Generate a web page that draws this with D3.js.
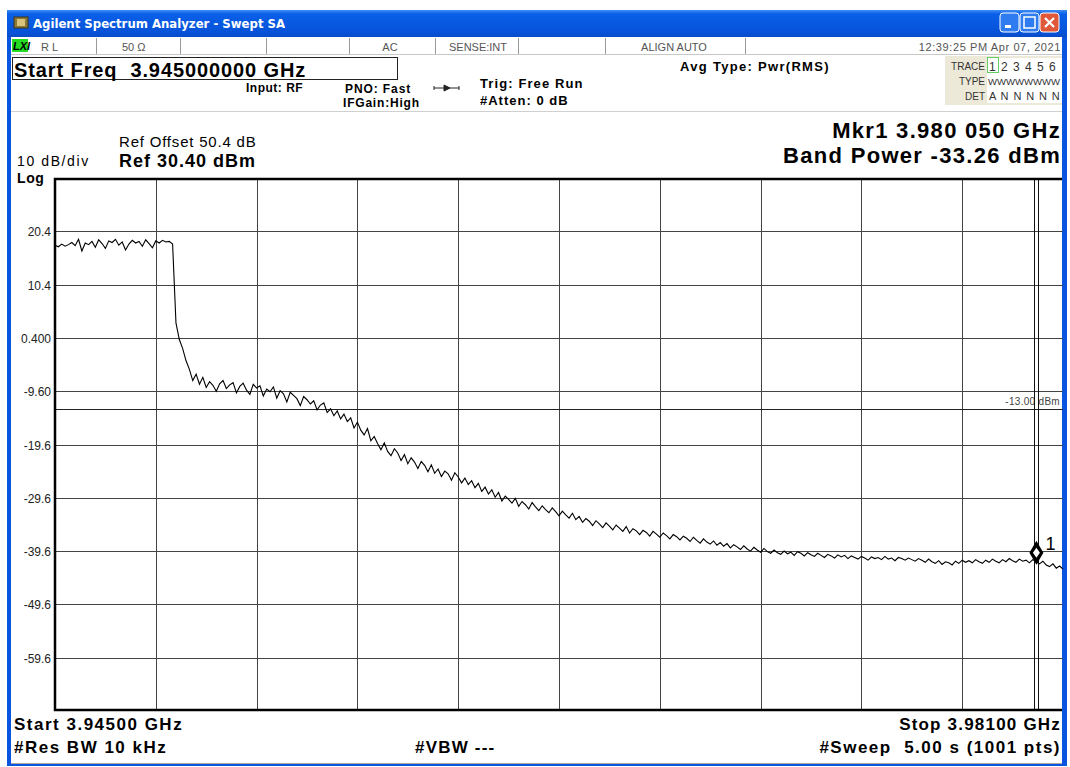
<!DOCTYPE html>
<html>
<head>
<meta charset="utf-8">
<script src="https://cdn.jsdelivr.net/npm/d3@7"></script>
<style>
  body { margin: 0; background: #ffffff; }
  svg { display: block; font-family: "Liberation Sans", Arial, sans-serif; }
</style>
</head>
<body>
<svg></svg>
<script>
// trace: 301 points, 3.945 -> 3.981 GHz, step 0.12 MHz
var startFreq = 3.945, stopFreq = 3.981
var traceDbm = [
  17.8, 17.5, 18.0, 17.6, 17.9, 18.3, 17.7, 18.9, 16.7, 18.2,
  17.9, 18.5, 17.4, 18.8, 18.1, 17.2, 18.6, 18.3, 18.9, 17.8,
  18.4, 16.9, 18.0, 18.7, 18.2, 18.5, 17.6, 18.8, 18.1, 17.3,
  18.6, 18.2, 18.7, 18.4, 18.5, 18.0,
  3.2, 0.1, -1.6, -3.9, -5.5, -7.6, -6.4, -8.3, -7.0, -8.9,
  -7.8, -8.5, -9.6, -8.2, -7.6, -9.1, -8.4, -8.0, -9.9, -8.7,
  -8.1, -9.4, -10.2, -8.3, -9.0, -8.6, -10.5, -9.2, -9.7, -8.8,
  -10.9, -9.5, -10.1, -11.6, -9.8, -10.4, -11.0, -12.3, -10.6, -11.2,
  -12.0, -11.4, -13.1, -12.2, -11.8, -13.6, -12.9, -14.2, -13.3, -14.8,
  -13.9, -15.3, -14.6, -16.5, -15.4, -16.9, -17.8, -16.6, -18.9, -18.1,
  -19.4, -20.6, -19.3, -20.9, -21.7, -20.4, -21.2, -22.6, -21.5, -23.2,
  -22.1, -22.9, -24.1, -22.8, -23.5, -24.7, -23.4, -25.0, -24.2, -25.6,
  -24.6, -25.1, -26.3, -24.9, -25.7, -26.8, -25.9, -27.1, -26.4, -27.7,
  -26.9, -28.4, -27.6, -28.9, -28.1, -29.5, -28.6, -30.2, -29.3, -29.9,
  -30.6, -29.7, -31.2, -30.3, -30.9, -31.7, -30.5, -31.3, -32.0, -31.1,
  -31.8, -32.4, -31.5, -32.2, -33.0, -32.1, -32.8, -33.4, -32.5, -33.7,
  -33.1, -34.2, -33.5, -34.0, -34.8, -33.9, -34.5, -35.2, -34.3, -34.9,
  -35.6, -34.7, -35.3, -35.9, -35.0, -36.2, -35.4, -35.8, -36.5, -35.7,
  -36.1, -36.8, -35.9, -36.4, -37.0, -36.2, -36.7, -37.3, -36.5, -36.9,
  -37.5, -36.8, -37.2, -37.8, -37.0, -37.6, -38.1, -37.3, -37.9, -38.3,
  -37.7, -38.5, -38.0, -38.7, -38.2, -39.0, -38.4, -38.8, -39.3, -38.6,
  -39.2, -39.6, -38.9, -39.4, -39.8, -39.1, -39.7, -40.0, -39.4, -39.9,
  -40.2, -39.6, -40.1, -39.8, -40.4, -39.7, -40.0, -40.5, -39.9, -40.3,
  -40.6, -40.0, -40.4, -40.8, -40.2, -40.5, -40.9, -40.3, -40.7, -40.4,
  -41.0, -40.5, -40.8, -41.1, -40.6, -40.9, -41.3, -40.7, -41.0, -40.8,
  -41.2, -40.6, -41.1, -40.9, -41.4, -40.8, -41.0, -41.3, -40.9, -41.2,
  -41.5, -41.0, -41.3, -41.7, -41.1, -41.6, -41.9, -41.4, -42.1, -41.6,
  -41.8, -42.2, -41.5, -41.9, -41.3, -41.7, -41.4, -41.8, -41.2, -41.6,
  -41.9, -41.3, -41.7, -41.1, -41.5, -41.8, -41.2, -41.6, -41.0, -41.4,
  -41.7, -41.1, -41.5, -41.3, -41.8, -41.2, -41.6, -42.0, -41.5, -42.2,
  -42.5, -42.0, -42.8, -42.4, -43.0
]
var yTickValues = [20.4, 10.4, 0.4, -9.6, -19.6, -29.6, -39.6, -49.6, -59.6]
var yTickLabels = ['20.4', '10.4', '0.400', '-9.60', '-19.6', '-29.6', '-39.6', '-49.6', '-59.6']
var refLevel = 30.4, dbPerDiv = 10, divisions = 10
var displayLine = -13.0
var markerFreq = 3.98005, markerLevel = -41.6
var bandEdges = [3.97998, 3.98012]

var W = 1070, H = 767
var svg = d3.select('svg').attr('width', W).attr('height', H)

var x = d3.scaleLinear().domain([startFreq, stopFreq]).range([55, 1063])
var y = d3.scaleLinear().domain([refLevel - dbPerDiv * divisions, refLevel]).range([711, 178])
var step = (stopFreq - startFreq) / (traceDbm.length - 1)

// little helper for bold/regular header text
function label(g, t, px, py, size, bold, spacing, anchor) {
  return g.append('text').attr('x', px).attr('y', py).text(t)
    .attr('text-anchor', anchor || 'start').attr('xml:space', 'preserve')
    .style('font-size', size + 'px').style('font-weight', bold ? 'bold' : 'normal')
    .style('letter-spacing', (spacing || 0) + 'px')
}

// window frame
var defs = svg.append('defs')
var grad = defs.append('linearGradient').attr('id', 'tb').attr('x1', 0).attr('x2', 0).attr('y1', 0).attr('y2', 1)
grad.append('stop').attr('offset', '0%').attr('stop-color', '#3d8df5')
grad.append('stop').attr('offset', '15%').attr('stop-color', '#0a5fe8')
grad.append('stop').attr('offset', '85%').attr('stop-color', '#0652d8')
grad.append('stop').attr('offset', '100%').attr('stop-color', '#0a4cc4')

svg.append('rect').attr('x', 7).attr('y', 10).attr('width', 1060).attr('height', 756).attr('fill', '#0a55e0')
svg.append('rect').attr('x', 7).attr('y', 10).attr('width', 1060).attr('height', 27).attr('fill', 'url(#tb)')
svg.append('rect').attr('x', 11).attr('y', 37).attr('width', 1051).attr('height', 726).attr('fill', '#ffffff')
svg.append('line').attr('x1', 11).attr('x2', 1062).attr('y1', 763.5).attr('y2', 763.5).attr('stroke', '#aca899')

// title icon + text
svg.append('rect').attr('x', 14).attr('y', 17).attr('width', 14).attr('height', 11).attr('fill', '#8a7a3a').attr('stroke', '#3c3414')
svg.append('rect').attr('x', 17).attr('y', 19).attr('width', 8).attr('height', 7).attr('fill', '#d9c27a')
svg.append('text').attr('x', 33).attr('y', 28).text('Agilent Spectrum Analyzer - Swept SA')
  .attr('fill', '#ffffff').style('font-size', '13px').style('font-weight', 'bold')
  .style('font-family', '"DejaVu Sans Condensed", "Liberation Sans Narrow", sans-serif')

// caption buttons
var btns = [{x: 1000, c: '#2f7cf0'}, {x: 1020, c: '#2f7cf0'}, {x: 1040, c: '#e0583a'}]
svg.selectAll('.cap').data(btns).enter().append('rect').attr('class', 'cap')
  .attr('x', function(d) { return d.x }).attr('y', 13).attr('width', 19).attr('height', 19).attr('rx', 3)
  .attr('fill', function(d) { return d.c }).attr('stroke', '#ffffff')
svg.append('rect').attr('x', 1005).attr('y', 25).attr('width', 6).attr('height', 3).attr('fill', '#fff')
svg.append('rect').attr('x', 1024).attr('y', 17).attr('width', 11).attr('height', 11).attr('fill', 'none').attr('stroke', '#fff').attr('stroke-width', 1.5)
svg.append('path').attr('d', 'M1045,18 L1054,27 M1054,18 L1045,27').attr('stroke', '#fff').attr('stroke-width', 2.2)

var inner = svg.append('g')

// status row
var statusSeps = [96, 180, 266, 349, 435, 518, 605, 745]
inner.selectAll('.sep').data(statusSeps).enter().append('line').attr('class', 'sep')
  .attr('x1', function(d) { return d + 0.5 }).attr('x2', function(d) { return d + 0.5 })
  .attr('y1', 38).attr('y2', 54).attr('stroke', '#9a9a9a')
inner.append('line').attr('x1', 11).attr('x2', 1062).attr('y1', 54.5).attr('y2', 54.5).attr('stroke', '#c8c8c8')
inner.append('rect').attr('x', 12).attr('y', 39).attr('width', 16).attr('height', 13).attr('fill', '#22dd22')
inner.append('text').attr('x', 13).attr('y', 50).text('LXI').style('font-size', '11px').style('font-weight', 'bold').style('font-style', 'italic')
var statusTexts = [
  {t: 'R L', x: 41, a: 'start'}, {t: '50 Ω', x: 122, a: 'start'}, {t: 'AC', x: 390, a: 'middle'},
  {t: 'SENSE:INT', x: 478, a: 'middle'}, {t: 'ALIGN AUTO', x: 674, a: 'middle'},
  {t: '12:39:25 PM Apr 07, 2021', x: 1061, a: 'end'}
]
inner.selectAll('.st').data(statusTexts).enter().append('text').attr('class', 'st')
  .attr('x', function(d) { return d.x }).attr('y', 51).attr('text-anchor', function(d) { return d.a })
  .text(function(d) { return d.t }).attr('fill', '#555').style('font-size', '11px')
  .style('letter-spacing', function(d) { return d.a === 'end' ? '0.6px' : '0px' })

// settings header
inner.append('rect').attr('x', 12.5).attr('y', 57.5).attr('width', 385).attr('height', 22).attr('fill', 'none').attr('stroke', '#222')
label(inner, 'Start Freq  3.945000000 GHz', 14, 77, 20, true, 0.9)
label(inner, 'Input: RF', 246, 92, 12, true, 0.5)
label(inner, 'PNO: Fast', 345, 93, 12, true, 0.9)
label(inner, 'IFGain:High', 343, 107, 12, true, 0.8)
label(inner, 'Trig: Free Run', 480, 88, 13, true, 1.1)
label(inner, '#Atten: 0 dB', 480, 105, 13, true, 1.0)
label(inner, 'Avg Type: Pwr(RMS)', 680, 71, 13, true, 1.3)
inner.append('path').attr('d', 'M434,88 L459,88 M444,85 L450,88 L444,91 Z M434,86 L434,90 M459,86 L459,90').attr('stroke', '#222').attr('fill', '#222')

// trace box
inner.append('rect').attr('x', 945).attr('y', 56).attr('width', 117).attr('height', 49).attr('fill', '#ece9d8')
inner.append('rect').attr('x', 987).attr('y', 58).attr('width', 75).attr('height', 45).attr('fill', '#ffffff')
inner.append('rect').attr('x', 987.5).attr('y', 57.5).attr('width', 11).attr('height', 15).attr('fill', 'none').attr('stroke', '#66cc66')
var tb = [['TRACE', 70], ['TYPE', 85], ['DET', 100]]
inner.selectAll('.tbl').data(tb).enter().append('text').attr('class', 'tbl')
  .attr('x', 985).attr('y', function(d) { return d[1] }).attr('text-anchor', 'end')
  .text(function(d) { return d[0] }).attr('fill', '#333').style('font-size', '10px')
label(inner, '1 2 3 4 5 6', 989, 71, 12, false, 1.0).attr('fill', '#333')
inner.append('text').attr('x', 988).attr('y', 85).text('WWWWWWWW').attr('fill', '#333').style('font-size', '9px')
  .attr('textLength', 72).attr('lengthAdjust', 'spacingAndGlyphs')
label(inner, 'A N N N N N', 989, 100, 11, false, 0.9).attr('fill', '#333')
inner.append('line').attr('x1', 11).attr('x2', 1062).attr('y1', 111.5).attr('y2', 111.5).attr('stroke', '#d0d0d0')

// reference block
label(inner, 'Ref Offset 50.4 dB', 119, 147, 15, false, 0.8)
label(inner, 'Ref 30.40 dBm', 119, 167, 18, true, 1.0)
label(inner, '10 dB/div', 17, 166, 14, false, 1.6)
label(inner, 'Log', 17, 183, 14, true, 0.6)
label(inner, 'Mkr1 3.980 050 GHz', 1061, 138, 22, true, 1.3, 'end')
label(inner, 'Band Power -33.26 dBm', 1061, 163, 22, true, 1.3, 'end')

// grid
var plot = svg.append('g')
var xTicks = d3.range(1, divisions).map(function(i) { return startFreq + i * (stopFreq - startFreq) / divisions })
plot.selectAll('.vg').data(xTicks).enter().append('line').attr('class', 'vg')
  .attr('x1', function(d) { return Math.round(x(d)) + 0.5 }).attr('x2', function(d) { return Math.round(x(d)) + 0.5 })
  .attr('y1', y.range()[1]).attr('y2', y.range()[0]).attr('stroke', '#444')
plot.selectAll('.hg').data(yTickValues).enter().append('line').attr('class', 'hg')
  .attr('x1', x.range()[0]).attr('x2', x.range()[1])
  .attr('y1', function(d) { return Math.round(y(d)) + 0.5 }).attr('y2', function(d) { return Math.round(y(d)) + 0.5 })
  .attr('stroke', '#444')
plot.selectAll('.yl').data(yTickValues).enter().append('text').attr('class', 'yl')
  .attr('x', 51).attr('y', function(d) { return y(d) + 5 }).attr('text-anchor', 'end')
  .text(function(d, i) { return yTickLabels[i] }).attr('fill', '#222').style('font-size', '12px')

// display line
plot.append('line').attr('x1', x.range()[0]).attr('x2', x.range()[1])
  .attr('y1', Math.round(y(displayLine)) + 0.5).attr('y2', Math.round(y(displayLine)) + 0.5).attr('stroke', '#222')
label(plot, displayLine.toFixed(2) + ' dBm', 1060, y(displayLine) - 4, 10, false, 0.3, 'end').attr('fill', '#444')

// band edges
plot.selectAll('.be').data(bandEdges).enter().append('line').attr('class', 'be')
  .attr('x1', function(d) { return Math.round(x(d)) + 0.5 }).attr('x2', function(d) { return Math.round(x(d)) + 0.5 })
  .attr('y1', y.range()[1]).attr('y2', y.range()[0]).attr('stroke', '#111')

// frame
plot.append('path').attr('d', 'M1062,179 L55,179 L55,710 L1062,710').attr('fill', 'none').attr('stroke', '#000').attr('stroke-width', 2.5)

// trace
var line = d3.line()
  .x(function(d, i) { return x(startFreq + i * step) })
  .y(function(d) { return y(d) })
plot.append('path').datum(traceDbm).attr('d', line).attr('fill', 'none').attr('stroke', '#000').attr('stroke-width', 1.1)

// marker
var mx = x(markerFreq), my = y(markerLevel) - 9
plot.append('path').attr('d', 'M' + mx + ',' + (my - 12) + ' L' + (mx + 7) + ',' + my + ' L' + mx + ',' + (my + 12) + ' L' + (mx - 7) + ',' + my + ' Z').attr('fill', '#000')
plot.append('path').attr('d', 'M' + mx + ',' + (my - 5) + ' L' + (mx + 3.5) + ',' + my + ' L' + mx + ',' + (my + 5) + ' L' + (mx - 3.5) + ',' + my + ' Z').attr('fill', '#fff')
plot.append('text').attr('x', mx + 9).attr('y', my - 3).text('1').style('font-size', '18px')

// footer
label(svg, 'Start 3.94500 GHz', 14, 730, 17, true, 1.5)
label(svg, '#Res BW 10 kHz', 14, 753, 17, true, 1.5)
label(svg, '#VBW ---', 415, 753, 17, true, 1.2)
label(svg, 'Stop 3.98100 GHz', 1061, 730, 17, true, 1.2, 'end')
label(svg, '#Sweep  5.00 s (1001 pts)', 1061, 753, 17, true, 1.5, 'end')
</script>
</body>
</html>
